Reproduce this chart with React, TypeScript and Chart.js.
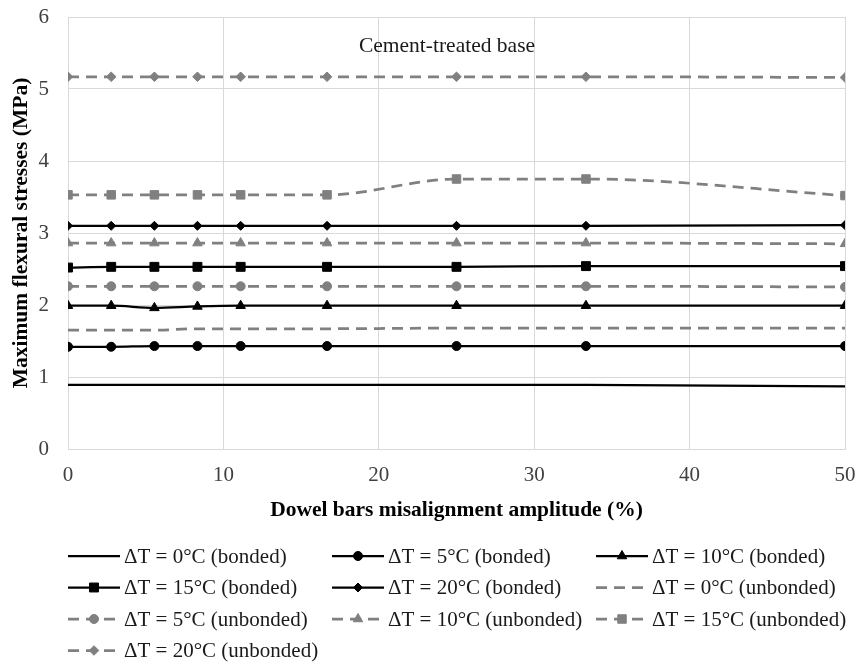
import React, { useEffect, useRef } from "react";
import { Chart, registerables } from "chart.js";
import { drawPoint } from "chart.js/helpers";

Chart.register(...registerables);

const amplitudes = [0, 2.78, 5.56, 8.33, 11.11, 16.67, 25, 33.33, 50];

const bonded0 = [0.89, 0.89, 0.89, 0.89, 0.89, 0.89, 0.89, 0.89, 0.87];
const bonded5 = [1.42, 1.42, 1.43, 1.43, 1.43, 1.43, 1.43, 1.43, 1.43];
const bonded10 = [1.99, 1.99, 1.96, 1.98, 1.99, 1.99, 1.99, 1.99, 1.99];
const bonded15 = [2.52, 2.53, 2.53, 2.53, 2.53, 2.53, 2.53, 2.54, 2.54];
const bonded20 = [3.1, 3.1, 3.1, 3.1, 3.1, 3.1, 3.1, 3.1, 3.11];
const unbonded0 = [1.65, 1.65, 1.65, 1.67, 1.67, 1.67, 1.68, 1.68, 1.68];
const unbonded5 = [2.26, 2.26, 2.26, 2.26, 2.26, 2.26, 2.26, 2.26, 2.25];
const unbonded10 = [2.86, 2.86, 2.86, 2.86, 2.86, 2.86, 2.86, 2.86, 2.85];
const unbonded15 = [3.53, 3.53, 3.53, 3.53, 3.53, 3.53, 3.75, 3.75, 3.52];
const unbonded20 = [5.17, 5.17, 5.17, 5.17, 5.17, 5.17, 5.17, 5.17, 5.16];

const seriesLabels = [
  "ΔT = 0°C (bonded)",
  "ΔT = 5°C (bonded)",
  "ΔT = 10°C (bonded)",
  "ΔT = 15°C (bonded)",
  "ΔT = 20°C (bonded)",
  "ΔT = 0°C (unbonded)",
  "ΔT = 5°C (unbonded)",
  "ΔT = 10°C (unbonded)",
  "ΔT = 15°C (unbonded)",
  "ΔT = 20°C (unbonded)",
];

const xTitle = "Dowel bars misalignment amplitude (%)";
const yTitle = "Maximum flexural stresses (MPa)";
const annotationText = "Cement-treated base";

const FONT = "'Liberation Serif', 'Times New Roman', serif";
const BLACK = "#000000";
const GRAY = "#808080";
const DASH = [11, 7];

type Style = { color: string; dash: number[]; width: number; point: string | false; radius: number };

const styles: Style[] = [
  { color: BLACK, dash: [], width: 2.25, point: false, radius: 0 },
  { color: BLACK, dash: [], width: 2.25, point: "circle", radius: 4.5 },
  { color: BLACK, dash: [], width: 2.25, point: "triangle", radius: 5.5 },
  { color: BLACK, dash: [], width: 2.25, point: "rect", radius: 6.3 },
  { color: BLACK, dash: [], width: 2.25, point: "rectRot", radius: 4.5 },
  { color: GRAY, dash: DASH, width: 2.75, point: false, radius: 0 },
  { color: GRAY, dash: DASH, width: 2.75, point: "circle", radius: 4.5 },
  { color: GRAY, dash: DASH, width: 2.75, point: "triangle", radius: 5.5 },
  { color: GRAY, dash: DASH, width: 2.75, point: "rect", radius: 6 },
  { color: GRAY, dash: DASH, width: 2.75, point: "rectRot", radius: 4.8 },
];

const seriesValues = [
  bonded0, bonded5, bonded10, bonded15, bonded20,
  unbonded0, unbonded5, unbonded10, unbonded15, unbonded20,
];

const legendPlugin = {
  id: "gridLegend",
  afterDraw(chart: any) {
    const ctx = chart.ctx;
    ctx.save();
    seriesLabels.forEach((label, i) => {
      const st = styles[i];
      const col = i % 3;
      const row = Math.floor(i / 3);
      const x0 = 68 + col * 264;
      const y = 556 + row * 31.5;
      ctx.save();
      ctx.strokeStyle = st.color;
      ctx.lineWidth = st.width;
      ctx.setLineDash(st.dash);
      ctx.beginPath();
      ctx.moveTo(x0, y);
      ctx.lineTo(x0 + 52, y);
      ctx.stroke();
      ctx.setLineDash([]);
      if (st.point) {
        ctx.fillStyle = st.color;
        ctx.strokeStyle = st.color;
        ctx.lineWidth = 1;
        drawPoint(ctx, { pointStyle: st.point as any, radius: st.radius, rotation: 0, borderWidth: 1 } as any, x0 + 26, y);
      }
      ctx.restore();
      ctx.fillStyle = "#1a1a1a";
      ctx.font = `21px ${FONT}`;
      ctx.textAlign = "left";
      ctx.textBaseline = "middle";
      ctx.fillText(label, x0 + 56, y + 1);
    });
    // annotation
    ctx.fillStyle = "#1a1a1a";
    ctx.font = `21.5px ${FONT}`;
    ctx.textAlign = "center";
    ctx.textBaseline = "middle";
    ctx.fillText(annotationText, 447, 46);
    ctx.restore();
  },
};

export default function App() {
  const ref = useRef<HTMLCanvasElement | null>(null);

  useEffect(() => {
    document.body.style.margin = "0";
    if (!ref.current) return;
    const datasets = seriesValues.map((vals, i) => {
      const st = styles[i];
      return {
        label: seriesLabels[i],
        data: amplitudes.map((x, k) => ({ x, y: vals[k] })),
        borderColor: st.color,
        backgroundColor: st.color,
        borderWidth: st.width,
        borderDash: st.dash,
        pointStyle: st.point || "circle",
        pointRadius: st.point ? st.radius : 0,
        pointBackgroundColor: st.color,
        pointBorderColor: st.color,
        pointBorderWidth: 1,
        cubicInterpolationMode: "monotone",
        fill: false,
      };
    });
    const chart = new Chart(ref.current, {
      type: "line",
      data: { datasets },
      options: {
        animation: false,
        responsive: false,
        devicePixelRatio: 1,
        layout: { padding: { top: 17, right: 16, bottom: 140, left: 0 } },
        plugins: { legend: { display: false }, tooltip: { enabled: false } },
        scales: {
          x: {
            type: "linear",
            min: 0,
            max: 50,
            afterFit: (s: any) => {
              s.height = 74;
              s.paddingLeft = 0;
              s.paddingRight = 0;
            },
            ticks: { stepSize: 10, color: "#404040", font: { family: FONT, size: 21 }, padding: 13.5 },
            grid: { color: "#d9d9d9", drawTicks: false, lineWidth: 1 },
            border: { color: "#d9d9d9" },
            title: {
              display: true,
              text: xTitle,
              color: "#000",
              font: { family: FONT, size: 21.5, weight: "bold" },
              padding: { top: 0, bottom: 0 },
            },
          },
          y: {
            type: "linear",
            min: 0,
            max: 6,
            afterFit: (s: any) => {
              s.width = 68;
              s.paddingTop = 0;
              s.paddingBottom = 0;
            },
            ticks: { stepSize: 1, color: "#404040", font: { family: FONT, size: 21 }, padding: 19 },
            grid: { color: "#d9d9d9", drawTicks: false, lineWidth: 1 },
            border: { color: "#d9d9d9" },
            title: {
              display: true,
              text: yTitle,
              color: "#000",
              font: { family: FONT, size: 21.5, weight: "bold" },
              padding: { top: 9, bottom: 0 },
            },
          },
        },
      },
      plugins: [legendPlugin],
    } as any);
    return () => chart.destroy();
  }, []);

  return (
    <div style={{ width: 861, height: 663, background: "#fff" }}>
      <canvas ref={ref} width={861} height={663} style={{ width: 861, height: 663, display: "block" }} />
    </div>
  );
}
